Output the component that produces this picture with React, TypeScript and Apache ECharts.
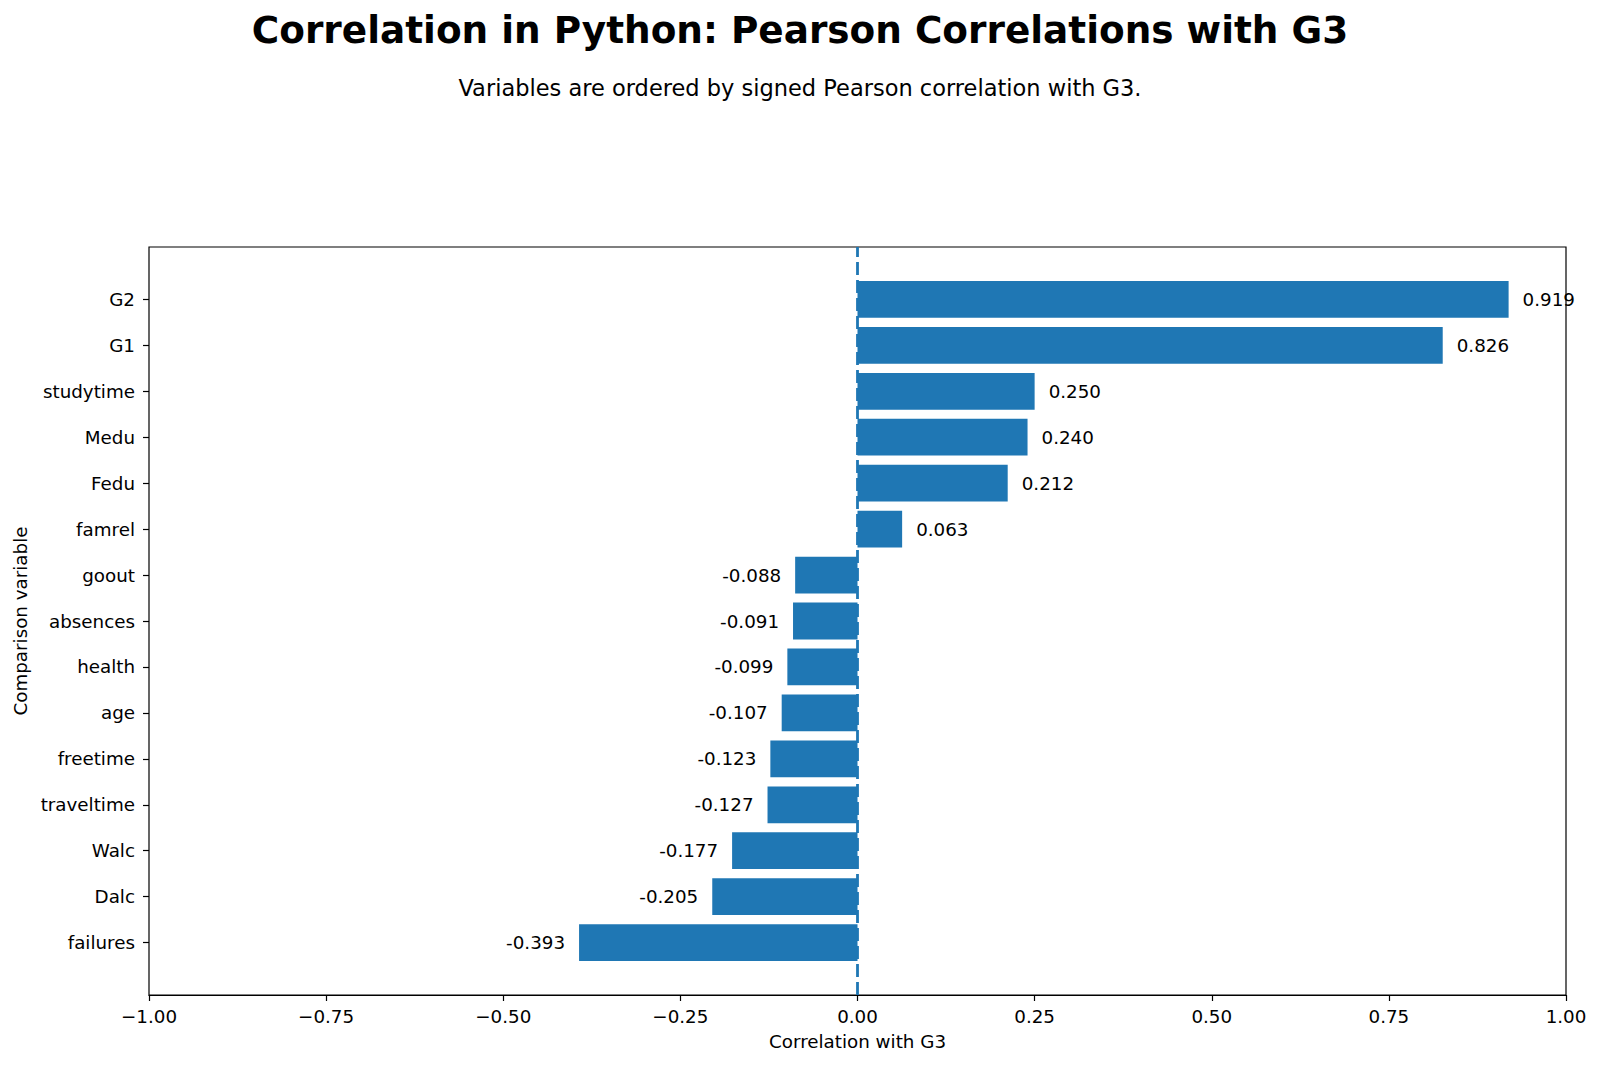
import React, { useEffect, useRef } from "react";
import * as echarts from "echarts";

// Variables ordered top to bottom by signed Pearson correlation with G3
const variables = [
  "G2", "G1", "studytime", "Medu", "Fedu", "famrel", "goout", "absences",
  "health", "age", "freetime", "traveltime", "Walc", "Dalc", "failures",
];
const correlations = [
  0.919, 0.826, 0.25, 0.24, 0.212, 0.063, -0.088, -0.091,
  -0.099, -0.107, -0.123, -0.127, -0.177, -0.205, -0.393,
];
const xTicks = [-1, -0.75, -0.5, -0.25, 0, 0.25, 0.5, 0.75, 1];

const BAR = "#1f77b4";
const FONT = "DejaVu Sans";
const FS = 18.3;

// Frame of the axes, and the band that holds the bars (matplotlib-style margins)
const FRAME = { left: 149, top: 247, width: 1417, height: 748 };
const SPAN = 14.8 * 1.1; // bar extent plus 5% margins each side
const STEP = FRAME.height / SPAN;
const INNER_TOP = FRAME.top + (0.74 + 0.4 - 0.5) * STEP;
const INNER_HEIGHT = variables.length * STEP;

export default function App() {
  const ref = useRef<HTMLDivElement>(null);

  useEffect(() => {
    document.body.style.margin = "0";
    const chart = echarts.init(ref.current!, null, { renderer: "svg" });
    const fmtTick = (v: number) => {
      const s = Math.abs(v).toFixed(2);
      return v < 0 ? "\u2212" + s : s;
    };
    chart.setOption({
      animation: false,
      textStyle: { fontFamily: FONT },
      title: [
        {
          text: "Correlation in Python: Pearson Correlations with G3",
          left: "center",
          top: 6,
          textStyle: { fontFamily: FONT, fontWeight: "bold", fontSize: 37.4, color: "#000" },
        },
        {
          text: "Variables are ordered by signed Pearson correlation with G3.",
          left: "center",
          top: 71,
          textStyle: { fontFamily: FONT, fontWeight: "normal", fontSize: 22.5, color: "#000" },
        },
      ],
      grid: [
        {
          left: FRAME.left, top: FRAME.top, width: FRAME.width, height: FRAME.height,
          show: true, borderColor: "#000", borderWidth: 1.2, backgroundColor: "transparent",
          outerBoundsMode: "none",
        },
        {
          left: FRAME.left, top: INNER_TOP, width: FRAME.width, height: INNER_HEIGHT,
          outerBoundsMode: "none",
        },
      ],
      xAxis: [
        {
          gridIndex: 0, type: "value", min: xTicks[0], max: xTicks[xTicks.length - 1], interval: 0.25,
          name: "Correlation with G3", nameLocation: "middle", nameGap: 37,
          nameTextStyle: { fontFamily: FONT, fontSize: FS, color: "#000" },
          axisLine: { show: true, onZero: false, lineStyle: { color: "#000", width: 1.2 } },
          axisTick: { show: true, length: 6, lineStyle: { color: "#000", width: 1.2 } },
          axisLabel: { formatter: fmtTick, fontFamily: FONT, fontSize: FS, color: "#000", margin: 12 },
          splitLine: { show: false },
        },
        {
          gridIndex: 1, type: "value", min: xTicks[0], max: xTicks[xTicks.length - 1], show: false,
          splitLine: { show: false },
        },
      ],
      yAxis: [
        { gridIndex: 0, type: "value", min: 0, max: 1, show: false, splitLine: { show: false } },
        {
          gridIndex: 1, type: "category", data: variables, inverse: true, position: "left",
          name: "Comparison variable", nameLocation: "middle", nameGap: 119, nameRotate: 90,
          nameTextStyle: { fontFamily: FONT, fontSize: FS, color: "#000" },
          axisLine: { show: false, onZero: false },
          axisTick: { show: true, alignWithLabel: true, length: 6, lineStyle: { color: "#000", width: 1.2 } },
          axisLabel: { fontFamily: FONT, fontSize: FS, color: "#000", margin: 14 },
          splitLine: { show: false },
        },
      ],
      series: [
        {
          type: "bar",
          xAxisIndex: 1,
          yAxisIndex: 1,
          barCategoryGap: "20%",
          itemStyle: { color: BAR },
          data: correlations.map((v) => ({
            value: v,
            label: {
              show: true,
              position: v >= 0 ? "right" : "left",
              distance: 14,
              formatter: v.toFixed(3),
              fontFamily: FONT,
              fontSize: FS,
              color: "#000",
            },
          })),
        },
        {
          // zero reference line spanning the whole frame
          type: "line",
          xAxisIndex: 0,
          yAxisIndex: 0,
          data: [[0, 0], [0, 1]],
          symbol: "none",
          z: 5,
          lineStyle: { color: BAR, width: 2.8, type: [13, 5] },
        },
      ],
    });
    return () => chart.dispose();
  }, []);

  return <div ref={ref} style={{ width: 1600, height: 1065 }} />;
}
